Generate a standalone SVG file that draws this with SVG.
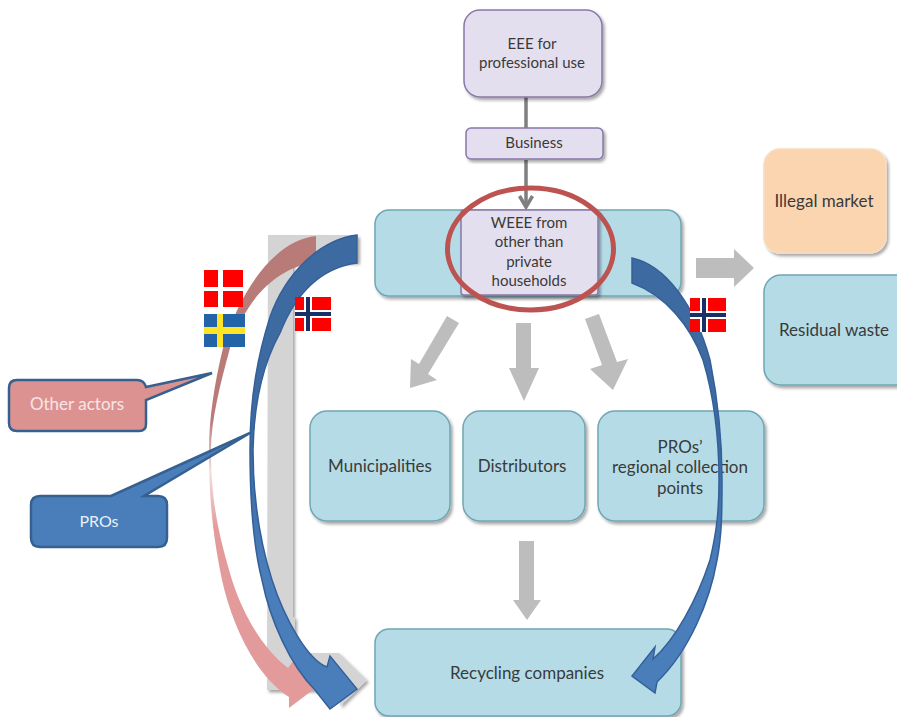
<svg xmlns="http://www.w3.org/2000/svg" width="897" height="717" viewBox="0 0 897 717">
<defs>
<filter id="sh" x="-10%" y="-10%" width="125%" height="125%"><feDropShadow dx="2" dy="2.5" stdDeviation="1.5" flood-color="#000" flood-opacity="0.35"/></filter>
<linearGradient id="pink" gradientUnits="userSpaceOnUse" x1="0" y1="236" x2="0" y2="708">
<stop offset="0.39" stop-color="#b97b78"/><stop offset="0.5" stop-color="#f2e0e0"/><stop offset="0.62" stop-color="#e39a9a"/>
</linearGradient>
<linearGradient id="blue" gradientUnits="userSpaceOnUse" x1="0" y1="236" x2="0" y2="708">
<stop offset="0.45" stop-color="#3d6ba1"/><stop offset="0.72" stop-color="#4a7ebb"/>
</linearGradient>
<style>
text{font-family:"Lato","Open Sans","Liberation Sans",sans-serif;font-size:17px;fill:#3a3a3a;text-anchor:middle}
.s{font-size:15px}
.t{fill:#b5dce6;stroke:#6fa6b4;stroke-width:1.5;filter:url(#sh)}
.p{fill:#e4dfee;stroke:#8878a8;stroke-width:1.5;filter:url(#sh)}
.g{fill:#bdbdbd}
.w{fill:#fff}
.red{fill:#f00}
.nv{fill:#1a2f66}
.arr{fill:url(#blue);stroke:#34609a;stroke-width:1.5}
</style>
</defs>
<rect width="897" height="717" fill="#fff"/>
<g id="bent-bar"><path d="M268 235H358V262H293V617H295V653H339L367 680L340 706V690H267Z" fill="#d4d4d4" filter="url(#sh)"/></g>
<g id="node-residual"><rect class="t" x="764" y="275" width="150" height="110" rx="17"/><text x="834" y="336">Residual waste</text></g>
<g id="node-illegal"><rect x="764" y="149" width="122" height="104" rx="16" fill="#fbd5b0" stroke="#f8dcc0" stroke-width="1.5" filter="url(#sh)"/><text x="824" y="207">Illegal market</text></g>
<g id="node-weee-box"><rect class="t" x="375" y="210" width="306" height="86" rx="14"/></g>
<g id="node-municipalities"><rect class="t" x="310" y="411" width="140" height="110" rx="17"/><text x="380" y="472">Municipalities</text></g>
<g id="node-distributors"><rect class="t" x="463" y="411" width="122" height="110" rx="17"/><text x="522" y="472">Distributors</text></g>
<g id="node-pros-points"><rect class="t" x="598" y="411" width="166" height="110" rx="17"/><text x="680" y="453">PROs’</text><text x="680" y="473">regional collection</text><text x="680" y="494">points</text></g>
<g id="node-recycling"><rect class="t" x="375" y="629" width="306" height="87" rx="14"/><text x="527" y="679">Recycling companies</text></g>
<g id="connectors">
<path d="M526 97V128" stroke="#7f7f7f" stroke-width="3.5" fill="none"/>
<path d="M526 160V205" stroke="#7f7f7f" stroke-width="3.5" fill="none"/>
<path d="M519.500 196L526 207L532.500 196" stroke="#7f7f7f" stroke-width="3.500" fill="none"/>
<path class="g" d="M696 258H734V249L754 268L734 287V278H696Z"/>
<path class="g" d="M447 316L459 323L428 374L437 380L410 388L411 359L419 364Z"/>
<path class="g" d="M516 323H531V368H539L524 401L509 368H516Z"/>
<path class="g" d="M585 319L599 314L617 362L628 359L613 390L590 369L602 365Z"/>
<path class="g" d="M519 541H534V600H541L527 620L513 600H519Z"/>
<path id="arrow-other" fill="url(#pink)" d="M316 236C275 240 240 290 223 348C214 385 209 420 209 450C209 510 215 545 222 580C232 625 255 675 289 697L289 708L318 686L300 652L288 668C265 650 245 620 232 580C222 545 211 510 211 450C211 420 220 385 230 348C245 300 275 268 316 262Z"/>
<path id="arrow-left" class="arr" d="M357 235C318 240 285 275 270 317C258 355 250 395 250 450C250 500 253 545 262 580C270 620 290 665 315 690L330 709L357 689L330 656L327 667C308 660 285 620 272 580C261 545 253 500 253 450C254 400 265 360 280 333C295 295 320 268 357 263Z"/>
<path id="arrow-right" class="arr" d="M632 258C665 265 695 305 710 360C718 400 722 440 722 480C722 510 722 535 717 560C710 600 690 650 657 682L655 693L632 676L655 647L653 659C675 640 697 600 710 560C717 530 719 510 719 480C719 440 715 400 703 360C690 325 665 295 632 283Z"/>
</g>
<g id="node-eee"><rect class="p" x="464" y="10" width="138" height="87" rx="16"/><text class="s" x="532" y="49">EEE for</text><text class="s" x="532" y="68">professional use</text></g>
<g id="node-business"><rect class="p" x="466" y="128" width="137" height="31" rx="5"/><text class="s" x="534" y="148">Business</text></g>
<g id="node-weee"><rect class="p" x="461" y="210" width="137" height="85" rx="3"/><text class="s" x="529" y="228">WEEE from</text><text class="s" x="529" y="247">other than</text><text class="s" x="529" y="267">private</text><text class="s" x="529" y="286">households</text></g>
<g id="highlight-ring"><ellipse cx="530.500" cy="249" rx="83" ry="61" fill="none" stroke="#bd5350" stroke-width="5"/></g>
<g id="flag-dk"><rect class="red" x="204" y="270" width="39" height="37"/><rect class="w" x="218" y="270" width="5" height="37"/><rect class="w" x="204" y="287" width="39" height="4"/></g>
<g id="flag-se"><rect x="204" y="314" width="41" height="33" fill="#2363a8"/><rect x="217" y="314" width="6" height="33" fill="#ffe326"/><rect x="204" y="327" width="41" height="7" fill="#ffe326"/></g>
<g id="flag-no-left"><rect class="red" x="295" y="297" width="36" height="34"/><rect class="w" x="304" y="297" width="8" height="34"/><rect class="w" x="295" y="310" width="36" height="8"/><rect class="nv" x="306" y="297" width="4" height="34"/><rect class="nv" x="295" y="312" width="36" height="4"/></g>
<g id="flag-no-right"><rect class="red" x="690" y="298" width="36" height="34"/><rect class="w" x="700" y="298" width="8" height="34"/><rect class="w" x="690" y="311" width="36" height="8"/><rect class="nv" x="702" y="298" width="4" height="34"/><rect class="nv" x="690" y="313" width="36" height="4"/></g>
<g id="callout-other"><path d="M17 380H137Q144 380 146 387L212 373L146 400V424Q146 431 139 431H17Q9 431 9 423V388Q9 380 17 380Z" fill="#dd9292" stroke="#35608f" stroke-width="2.5"/><text x="77" y="410" style="fill:#f6e6e6">Other actors</text></g>
<g id="callout-pros"><path d="M40 496H111L250 433L144 496H158Q167 496 167 505V538Q167 547 158 547H40Q31 547 31 538V505Q31 496 40 496Z" fill="#4a7ebb" stroke="#35608f" stroke-width="2.5"/><text x="99" y="527" style="font-size:16px;fill:#e8f0f8">PROs</text></g>
</svg>
